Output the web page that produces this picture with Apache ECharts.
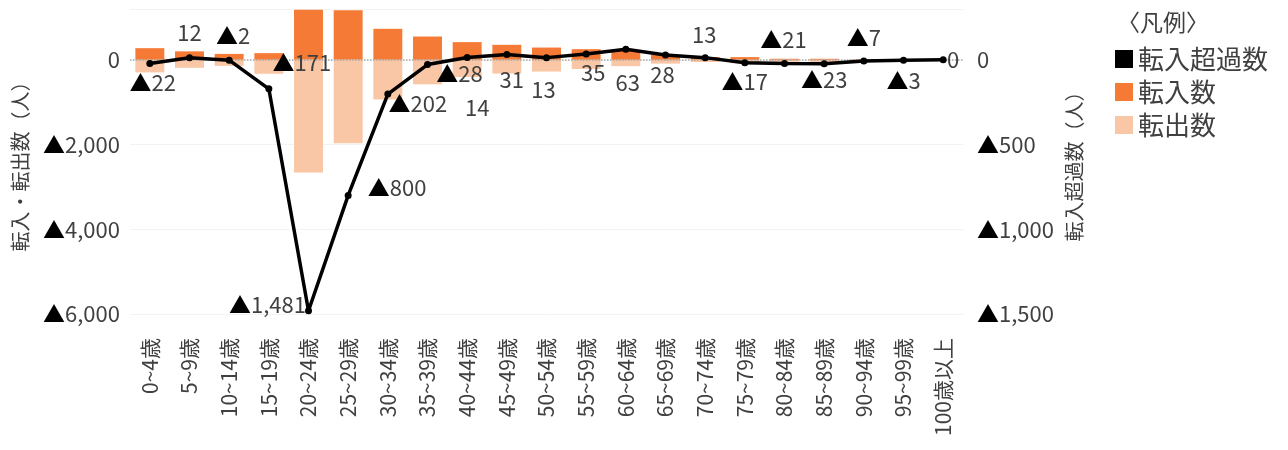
<!DOCTYPE html>
<html>
<head>
<meta charset="utf-8">
<script src="https://cdn.jsdelivr.net/npm/echarts@6/dist/echarts.min.js"></script>
<style>
  html, body { margin: 0; padding: 0; background: #fff; }
  #chart { width: 1288px; height: 450px; }
</style>
</head>
<body>
<div id="chart"></div>
<script>
// 年齢階級
var ageGroups = ['0~4歳', '5~9歳', '10~14歳', '15~19歳', '20~24歳', '25~29歳', '30~34歳',
  '35~39歳', '40~44歳', '45~49歳', '50~54歳', '55~59歳', '60~64歳', '65~69歳', '70~74歳',
  '75~79歳', '80~84歳', '85~89歳', '90~94歳', '95~99歳', '100歳以上'];
// 転入数（左軸）
var inCount = [275, 200, 140, 158, 1180, 1168, 732, 550, 418, 354, 290, 252, 212, 118, 64, 64, 25, 25, 10, 3, 1];
// 転出数（左軸・マイナス表示）
var outCount = [-297, -188, -142, -329, -2661, -1968, -934, -578, -404, -323, -277, -217, -149, -90, -51, -81, -46, -48, -17, -6, -1];
// 転入超過数（右軸）
var netCount = [-22, 12, -2, -171, -1481, -800, -202, -28, 14, 31, 13, 35, 63, 28, 13, -17, -21, -23, -7, -3, 0];

// ラベルのずらし量（見た目の調整用）
var lblShift = [[3, 19], [0, -25], [4, -25], [33, -26], [-41, -6], [49, -8], [30, 10], [32, 9],
  [10, 50], [5, 25], [-3, 32], [7, 19], [2, 33], [-3, 20], [-1, -23], [0, 19], [-1, -24],
  [0, 16], [0, -23], [0, 20], [10, 0]];

var FONT = '"Noto Sans CJK JP", "Noto Sans", sans-serif';
var TXT = '#404040';

function fmtNum(v) {
  if (v < 0) return '{t|▲}' + Math.abs(v).toLocaleString('en-US');
  return v.toLocaleString('en-US');
}
function fmtAxis(v) {
  if (v > 0) return '';
  return fmtNum(v);
}
var richTri = { t: { color: '#000', fontSize: 22, fontFamily: FONT } };

var myChart = echarts.init(document.getElementById('chart'));
var option = {
  animation: false,
  textStyle: { fontFamily: FONT },
  title: {
    text: '〈凡例〉',
    left: 1112,
    top: 6,
    textStyle: { fontFamily: FONT, fontSize: 23, fontWeight: 'normal', color: TXT }
  },
  legend: {
    orient: 'vertical',
    left: 1110,
    top: 41,
    icon: 'rect',
    itemWidth: 18,
    itemHeight: 18,
    itemGap: 7,
    textStyle: { fontFamily: FONT, fontSize: 26, color: TXT },
    data: ['転入超過数', '転入数', '転出数']
  },
  grid: { left: 130, right: 325, top: 9, bottom: 136 },
  xAxis: {
    type: 'category',
    data: ageGroups,
    axisLine: { show: false },
    axisTick: { show: false },
    axisLabel: {
      rotate: 90,
      interval: 0,
      margin: 24,
      fontSize: 21,
      color: TXT,
      fontFamily: FONT
    }
  },
  yAxis: [
    {
      type: 'value',
      min: -6000,
      max: 1200,
      interval: 2000,
      name: '転入・転出数（人）',
      nameLocation: 'middle',
      nameRotate: 90,
      nameGap: 100,
      nameTextStyle: { fontFamily: FONT, fontSize: 20, color: TXT },
      axisLine: { show: false },
      axisTick: { show: false },
      axisLabel: { formatter: fmtAxis, fontSize: 22, color: TXT, margin: 10, fontFamily: FONT, rich: richTri },
      splitLine: { lineStyle: { color: '#f3f3f3' } }
    },
    {
      type: 'value',
      min: -1500,
      max: 300,
      interval: 500,
      name: '転入超過数（人）',
      nameLocation: 'middle',
      nameRotate: 90,
      nameGap: 100,
      nameTextStyle: { fontFamily: FONT, fontSize: 20, color: TXT },
      axisLine: { show: false },
      axisTick: { show: false },
      axisLabel: { formatter: fmtAxis, fontSize: 22, color: TXT, margin: 14, fontFamily: FONT, rich: richTri },
      splitLine: { show: false }
    }
  ],
  series: [
    {
      name: '転入数',
      type: 'bar',
      yAxisIndex: 0,
      barWidth: '73%',
      barGap: '-100%',
      itemStyle: { color: '#F47A35' },
      data: inCount,
      markLine: {
        silent: true,
        symbol: 'none',
        label: { show: false },
        lineStyle: { color: '#a6a6a6', type: 'dotted', width: 1.5 },
        data: [{ yAxis: 0 }]
      }
    },
    {
      name: '転出数',
      type: 'bar',
      yAxisIndex: 0,
      barWidth: '73%',
      barGap: '-100%',
      itemStyle: { color: '#F9C7A5' },
      data: outCount
    },
    {
      name: '転入超過数',
      type: 'line',
      yAxisIndex: 1,
      z: 5,
      symbol: 'circle',
      symbolSize: 7,
      itemStyle: { color: '#000' },
      lineStyle: { color: '#000', width: 3.5 },
      label: {
        show: true,
        position: 'inside',
        fontSize: 22,
        color: TXT,
        fontFamily: FONT,
        rich: richTri,
        formatter: function (p) { return fmtNum(p.value); }
      },
      labelLayout: function (p) {
        var s = lblShift[p.dataIndex];
        return { dx: s[0], dy: s[1], hideOverlap: false };
      },
      data: netCount
    }
  ]
};
myChart.setOption(option);
</script>
</body>
</html>
